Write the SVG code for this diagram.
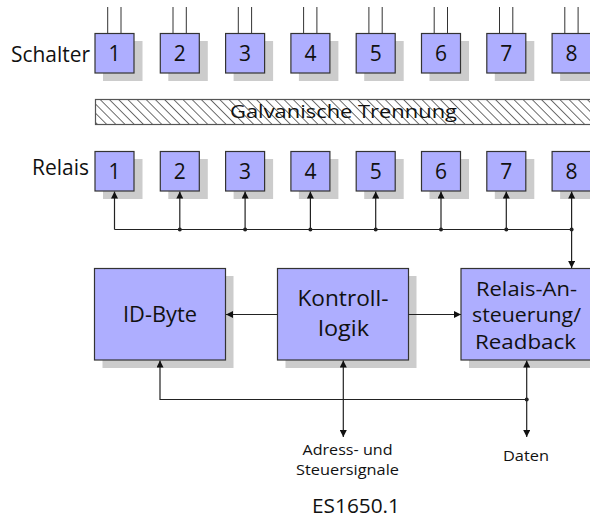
<svg xmlns="http://www.w3.org/2000/svg" width="590" height="519" viewBox="0 0 590 519">
<defs>
<style>
text{font-family:"Open Sans","Noto Sans","DejaVu Sans",sans-serif;fill:#111}
.box{fill:#aeaeff;stroke:#333;stroke-width:1.2}
.sh{fill:#cccccc}
.pin{stroke:#333;stroke-width:1}
.ln{stroke:#222;stroke-width:1.2;fill:none}
.dig{font-size:21px;text-anchor:middle}
.lbl{font-size:21px}
.big{font-size:22px;text-anchor:middle}
.big2{font-size:20.5px;text-anchor:middle}
.sm{font-size:15px;text-anchor:middle}
.dot{fill:#222}
</style>
<marker id="ah" viewBox="0 0 10 10" refX="10" refY="5" markerWidth="7" markerHeight="7" markerUnits="userSpaceOnUse" orient="auto">
<path d="M0,0 L10,5 L0,10 z" fill="#111"/>
</marker>
<pattern id="hatch" patternUnits="userSpaceOnUse" width="6.5" height="10" patternTransform="rotate(-45)">
<line x1="0" y1="-5" x2="0" y2="15" stroke="#222" stroke-width="1.3"/>
</pattern>
</defs>

<text class="lbl" x="11" y="62" textLength="79" lengthAdjust="spacingAndGlyphs">Schalter</text>
<text class="lbl" x="32" y="175" textLength="57" lengthAdjust="spacingAndGlyphs">Relais</text>

<g id="schalter">
<g id="s1"><line class="pin" x1="107.7" y1="7" x2="107.7" y2="33"/><line class="pin" x1="121" y1="7" x2="121" y2="33"/><rect class="sh" x="103" y="41" width="39.5" height="40"/><rect class="box" x="95" y="33.5" width="39" height="39.5"/><text class="dig" x="114.5" y="60.5">1</text></g>
<g id="s2"><line class="pin" x1="173" y1="7" x2="173" y2="33"/><line class="pin" x1="186.3" y1="7" x2="186.3" y2="33"/><rect class="sh" x="168.3" y="41" width="39.5" height="40"/><rect class="box" x="160.3" y="33.5" width="39" height="39.5"/><text class="dig" x="179.8" y="60.5">2</text></g>
<g id="s3"><line class="pin" x1="238.3" y1="7" x2="238.3" y2="33"/><line class="pin" x1="251.6" y1="7" x2="251.6" y2="33"/><rect class="sh" x="233.6" y="41" width="39.5" height="40"/><rect class="box" x="225.6" y="33.5" width="39" height="39.5"/><text class="dig" x="245.1" y="60.5">3</text></g>
<g id="s4"><line class="pin" x1="303.6" y1="7" x2="303.6" y2="33"/><line class="pin" x1="316.9" y1="7" x2="316.9" y2="33"/><rect class="sh" x="298.9" y="41" width="39.5" height="40"/><rect class="box" x="290.9" y="33.5" width="39" height="39.5"/><text class="dig" x="310.4" y="60.5">4</text></g>
<g id="s5"><line class="pin" x1="368.9" y1="7" x2="368.9" y2="33"/><line class="pin" x1="382.2" y1="7" x2="382.2" y2="33"/><rect class="sh" x="364.2" y="41" width="39.5" height="40"/><rect class="box" x="356.2" y="33.5" width="39" height="39.5"/><text class="dig" x="375.7" y="60.5">5</text></g>
<g id="s6"><line class="pin" x1="434.2" y1="7" x2="434.2" y2="33"/><line class="pin" x1="447.5" y1="7" x2="447.5" y2="33"/><rect class="sh" x="429.5" y="41" width="39.5" height="40"/><rect class="box" x="421.5" y="33.5" width="39" height="39.5"/><text class="dig" x="441" y="60.5">6</text></g>
<g id="s7"><line class="pin" x1="499.5" y1="7" x2="499.5" y2="33"/><line class="pin" x1="512.8" y1="7" x2="512.8" y2="33"/><rect class="sh" x="494.8" y="41" width="39.5" height="40"/><rect class="box" x="486.8" y="33.5" width="39" height="39.5"/><text class="dig" x="506.3" y="60.5">7</text></g>
<g id="s8"><line class="pin" x1="564.8" y1="7" x2="564.8" y2="33"/><line class="pin" x1="578.1" y1="7" x2="578.1" y2="33"/><rect class="sh" x="560.1" y="41" width="39.5" height="40"/><rect class="box" x="552.1" y="33.5" width="39" height="39.5"/><text class="dig" x="571.6" y="60.5">8</text></g>
</g>

<g id="trennung">
<rect x="95.5" y="99.5" width="500" height="25" fill="url(#hatch)" stroke="#555" stroke-width="1.2"/>
<text x="230" y="118" font-size="18" textLength="227" lengthAdjust="spacingAndGlyphs">Galvanische Trennung</text>
</g>

<g id="relais">
<g id="r1"><rect class="sh" x="103" y="159" width="39.5" height="40"/><rect class="box" x="95" y="151.5" width="39" height="39.5"/><text class="dig" x="114.5" y="178.5">1</text></g>
<g id="r2"><rect class="sh" x="168.3" y="159" width="39.5" height="40"/><rect class="box" x="160.3" y="151.5" width="39" height="39.5"/><text class="dig" x="179.8" y="178.5">2</text></g>
<g id="r3"><rect class="sh" x="233.6" y="159" width="39.5" height="40"/><rect class="box" x="225.6" y="151.5" width="39" height="39.5"/><text class="dig" x="245.1" y="178.5">3</text></g>
<g id="r4"><rect class="sh" x="298.9" y="159" width="39.5" height="40"/><rect class="box" x="290.9" y="151.5" width="39" height="39.5"/><text class="dig" x="310.4" y="178.5">4</text></g>
<g id="r5"><rect class="sh" x="364.2" y="159" width="39.5" height="40"/><rect class="box" x="356.2" y="151.5" width="39" height="39.5"/><text class="dig" x="375.7" y="178.5">5</text></g>
<g id="r6"><rect class="sh" x="429.5" y="159" width="39.5" height="40"/><rect class="box" x="421.5" y="151.5" width="39" height="39.5"/><text class="dig" x="441" y="178.5">6</text></g>
<g id="r7"><rect class="sh" x="494.8" y="159" width="39.5" height="40"/><rect class="box" x="486.8" y="151.5" width="39" height="39.5"/><text class="dig" x="506.3" y="178.5">7</text></g>
<g id="r8"><rect class="sh" x="560.1" y="159" width="39.5" height="40"/><rect class="box" x="552.1" y="151.5" width="39" height="39.5"/><text class="dig" x="571.6" y="178.5">8</text></g>
</g>

<g id="idbyte"><rect class="sh" x="102.5" y="276" width="131" height="92"/><rect class="box" x="94.5" y="268.5" width="131" height="91.5"/><text class="big" x="160" y="321.5" textLength="74" lengthAdjust="spacingAndGlyphs">ID-Byte</text></g>
<g id="kontroll"><rect class="sh" x="285.5" y="276" width="131" height="92"/><rect class="box" x="277.5" y="268.5" width="131" height="91.5"/><text class="big" x="343" y="305.5" textLength="91" lengthAdjust="spacingAndGlyphs">Kontroll-</text><text class="big" x="343.5" y="336" textLength="51" lengthAdjust="spacingAndGlyphs">logik</text></g>
<g id="ansteuerung"><rect class="sh" x="469" y="276" width="131" height="92"/><rect class="box" x="461" y="268.5" width="131" height="91.5"/><text class="big2" x="526.5" y="295.5" textLength="101" lengthAdjust="spacingAndGlyphs">Relais-An-</text><text class="big2" x="526.5" y="322" textLength="109" lengthAdjust="spacingAndGlyphs">steuerung/</text><text class="big2" x="525.5" y="348.5" textLength="101" lengthAdjust="spacingAndGlyphs">Readback</text></g>

<g id="connectors">
<path class="ln" d="M114.5,229.5 H571.6"/>
<path class="ln" d="M114.5,229.5 V191.5" marker-end="url(#ah)"/>
<path class="ln" d="M179.8,229.5 V191.5" marker-end="url(#ah)"/>
<path class="ln" d="M245.1,229.5 V191.5" marker-end="url(#ah)"/>
<path class="ln" d="M310.4,229.5 V191.5" marker-end="url(#ah)"/>
<path class="ln" d="M375.7,229.5 V191.5" marker-end="url(#ah)"/>
<path class="ln" d="M441,229.5 V191.5" marker-end="url(#ah)"/>
<path class="ln" d="M506.3,229.5 V191.5" marker-end="url(#ah)"/>
<path class="ln" d="M571.6,229.5 V191.5" marker-end="url(#ah)"/>
<path class="ln" d="M571.6,229.5 V268" marker-end="url(#ah)"/>
<circle class="dot" cx="179.8" cy="229.5" r="2"/>
<circle class="dot" cx="245.1" cy="229.5" r="2"/>
<circle class="dot" cx="310.4" cy="229.5" r="2"/>
<circle class="dot" cx="375.7" cy="229.5" r="2"/>
<circle class="dot" cx="441" cy="229.5" r="2"/>
<circle class="dot" cx="506.3" cy="229.5" r="2"/>
<circle class="dot" cx="571.6" cy="229.5" r="2"/>
<path class="ln" d="M277.5,314.5 H226" marker-end="url(#ah)"/>
<path class="ln" d="M408.5,314.5 H461" marker-end="url(#ah)"/>
<path class="ln" d="M526.7,399.5 H160 V360.5" marker-end="url(#ah)"/>
<path class="ln" d="M526.7,399.5 V360.5" marker-end="url(#ah)"/>
<path class="ln" d="M526.7,399.5 V437" marker-end="url(#ah)"/>
<circle class="dot" cx="526.7" cy="399.5" r="2"/>
<path class="ln" d="M343.3,400 V360.5" marker-end="url(#ah)"/>
<path class="ln" d="M343.3,400 V437" marker-end="url(#ah)"/>
</g>

<text class="sm" x="347.5" y="455" textLength="90" lengthAdjust="spacingAndGlyphs">Adress- und</text>
<text class="sm" x="347.5" y="475" textLength="103" lengthAdjust="spacingAndGlyphs">Steuersignale</text>
<text class="sm" x="526" y="461" textLength="46" lengthAdjust="spacingAndGlyphs">Daten</text>
<text x="356" y="513" font-size="20" text-anchor="middle" textLength="88" lengthAdjust="spacingAndGlyphs">ES1650.1</text>
</svg>
